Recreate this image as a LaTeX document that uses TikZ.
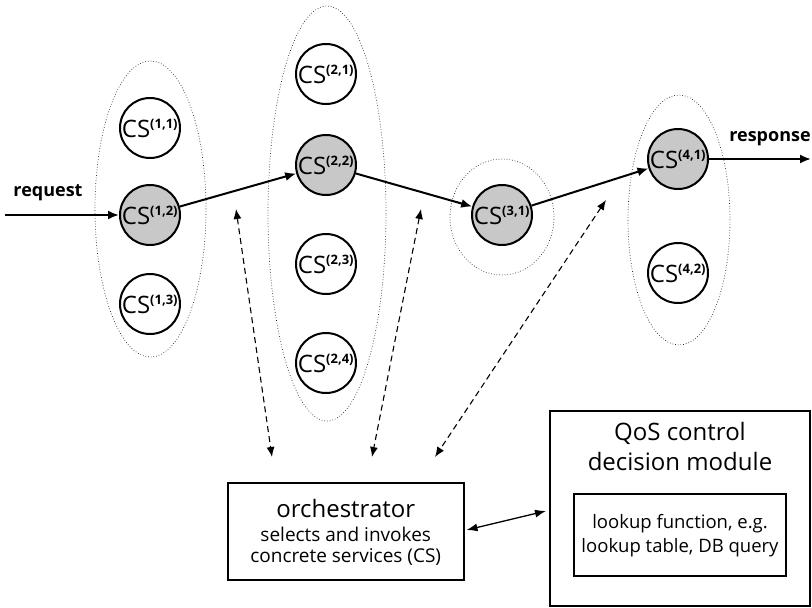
\documentclass[tikz,border=0pt]{standalone}
\usepackage{fontspec}
\setmainfont{Open Sans}
\usetikzlibrary{arrows.meta,shapes.geometric}
\definecolor{csgray}{HTML}{C8C8C8}
\tikzset{
  cs/.style={circle,draw=black,line width=2pt,minimum size=60pt,inner sep=0pt,font=\fontsize{24}{26}\selectfont},
  sel/.style={cs,fill=csgray},
  grp/.style={ellipse,draw=black!85,dotted,line width=0.7pt,inner sep=0pt},
  flow/.style={line width=2pt,-{Latex[length=11pt,width=9pt]}},
  ctl/.style={dash pattern=on 6pt off 4pt,line width=1.1pt,{Latex[length=10pt,width=8pt]}-{Latex[length=10pt,width=8pt]}},
  link/.style={line width=1.3pt,{Latex[length=11pt,width=8pt]}-{Latex[length=11pt,width=8pt]}},
  box/.style={draw=black,line width=2pt,inner sep=0pt},
}
\newcommand{\csl}[1]{CS\textsuperscript{\bfseries\fontsize{13}{14}\selectfont(#1)}}
\begin{document}
\begin{tikzpicture}[x=1pt,y=-1pt]
\useasboundingbox (0,0) rectangle (812,608);
% groups
\node[grp,minimum width=111pt,minimum height=296pt] (g1) at (150.5,209) {};
\node[grp,minimum width=118pt,minimum height=415pt] (g2) at (327,213.5) {};
\node[grp,minimum width=104pt,minimum height=116pt] (g3) at (502,217) {};
\node[grp,minimum width=102pt,minimum height=250pt] (g4) at (679,220) {};
% services
\node[cs]  (c11) at (150,128) {\csl{1,1}};
\node[sel] (c12) at (150,215) {\csl{1,2}};
\node[cs]  (c13) at (150,304) {\csl{1,3}};
\node[cs]  (c21) at (326,74)  {\csl{2,1}};
\node[sel] (c22) at (326,165) {\csl{2,2}};
\node[cs]  (c23) at (326,264) {\csl{2,3}};
\node[cs]  (c24) at (326,363) {\csl{2,4}};
\node[sel] (c31) at (502,215) {\csl{3,1}};
\node[sel] (c41) at (678,159) {\csl{4,1}};
\node[cs]  (c42) at (678,273) {\csl{4,2}};
% request / response
\coordinate (rq) at (5,215);
\coordinate (rs) at (811,159);
\node[font=\bfseries\fontsize{18}{20}\selectfont] (lrq) at (48,193) {request};
\node[font=\bfseries\fontsize{18}{20}\selectfont] (lrs) at (770,139) {response};
\draw[flow] (rq) -- (c12);
\draw[flow] (c12) -- (c22);
\draw[flow] (c22) -- (c31);
\draw[flow] (c31) -- (c41);
\draw[flow] (c41) -- (rs);
% orchestrator
\node[box,minimum width=235.5pt,minimum height=97pt] (orch) at (345.75,531.5) {};
\node[font=\fontsize{24}{26}\selectfont] (ot) at (345.75,508) {orchestrator};
\node[font=\fontsize{19}{21}\selectfont] (o1) at (345.75,534) {selects and invokes};
\node[font=\fontsize{19}{21}\selectfont] (o2) at (345.75,557) {concrete services (CS)};
% QoS
\node[box,minimum width=260pt,minimum height=195pt] (qos) at (680,508.5) {};
\node[font=\fontsize{24}{26}\selectfont] (q1) at (680,433) {QoS control};
\node[font=\fontsize{24}{26}\selectfont] (q2) at (680,461) {decision module};
\node[box,minimum width=212pt,minimum height=82pt] (look) at (680,535) {};
\node[font=\fontsize{18.5}{20}\selectfont] (l1) at (680,524) {lookup function, e.g.};
\node[font=\fontsize{18.5}{20}\selectfont] (l2) at (680,548) {lookup table, DB query};
% control arrows
\coordinate (d1a) at (236,209);
\coordinate (d1b) at (272,457);
\coordinate (d2a) at (421,209);
\coordinate (d2b) at (372,457);
\coordinate (d3a) at (606,200);
\coordinate (d3b) at (435,457);
\draw[ctl] (d1a) -- (d1b);
\draw[ctl] (d2a) -- (d2b);
\draw[ctl] (d3a) -- (d3b);
\draw[link] ([xshift=2pt,yshift=1.5pt]orch.east) -- ([xshift=-3pt,yshift=-2.5pt]qos.west);
\end{tikzpicture}
\end{document}
